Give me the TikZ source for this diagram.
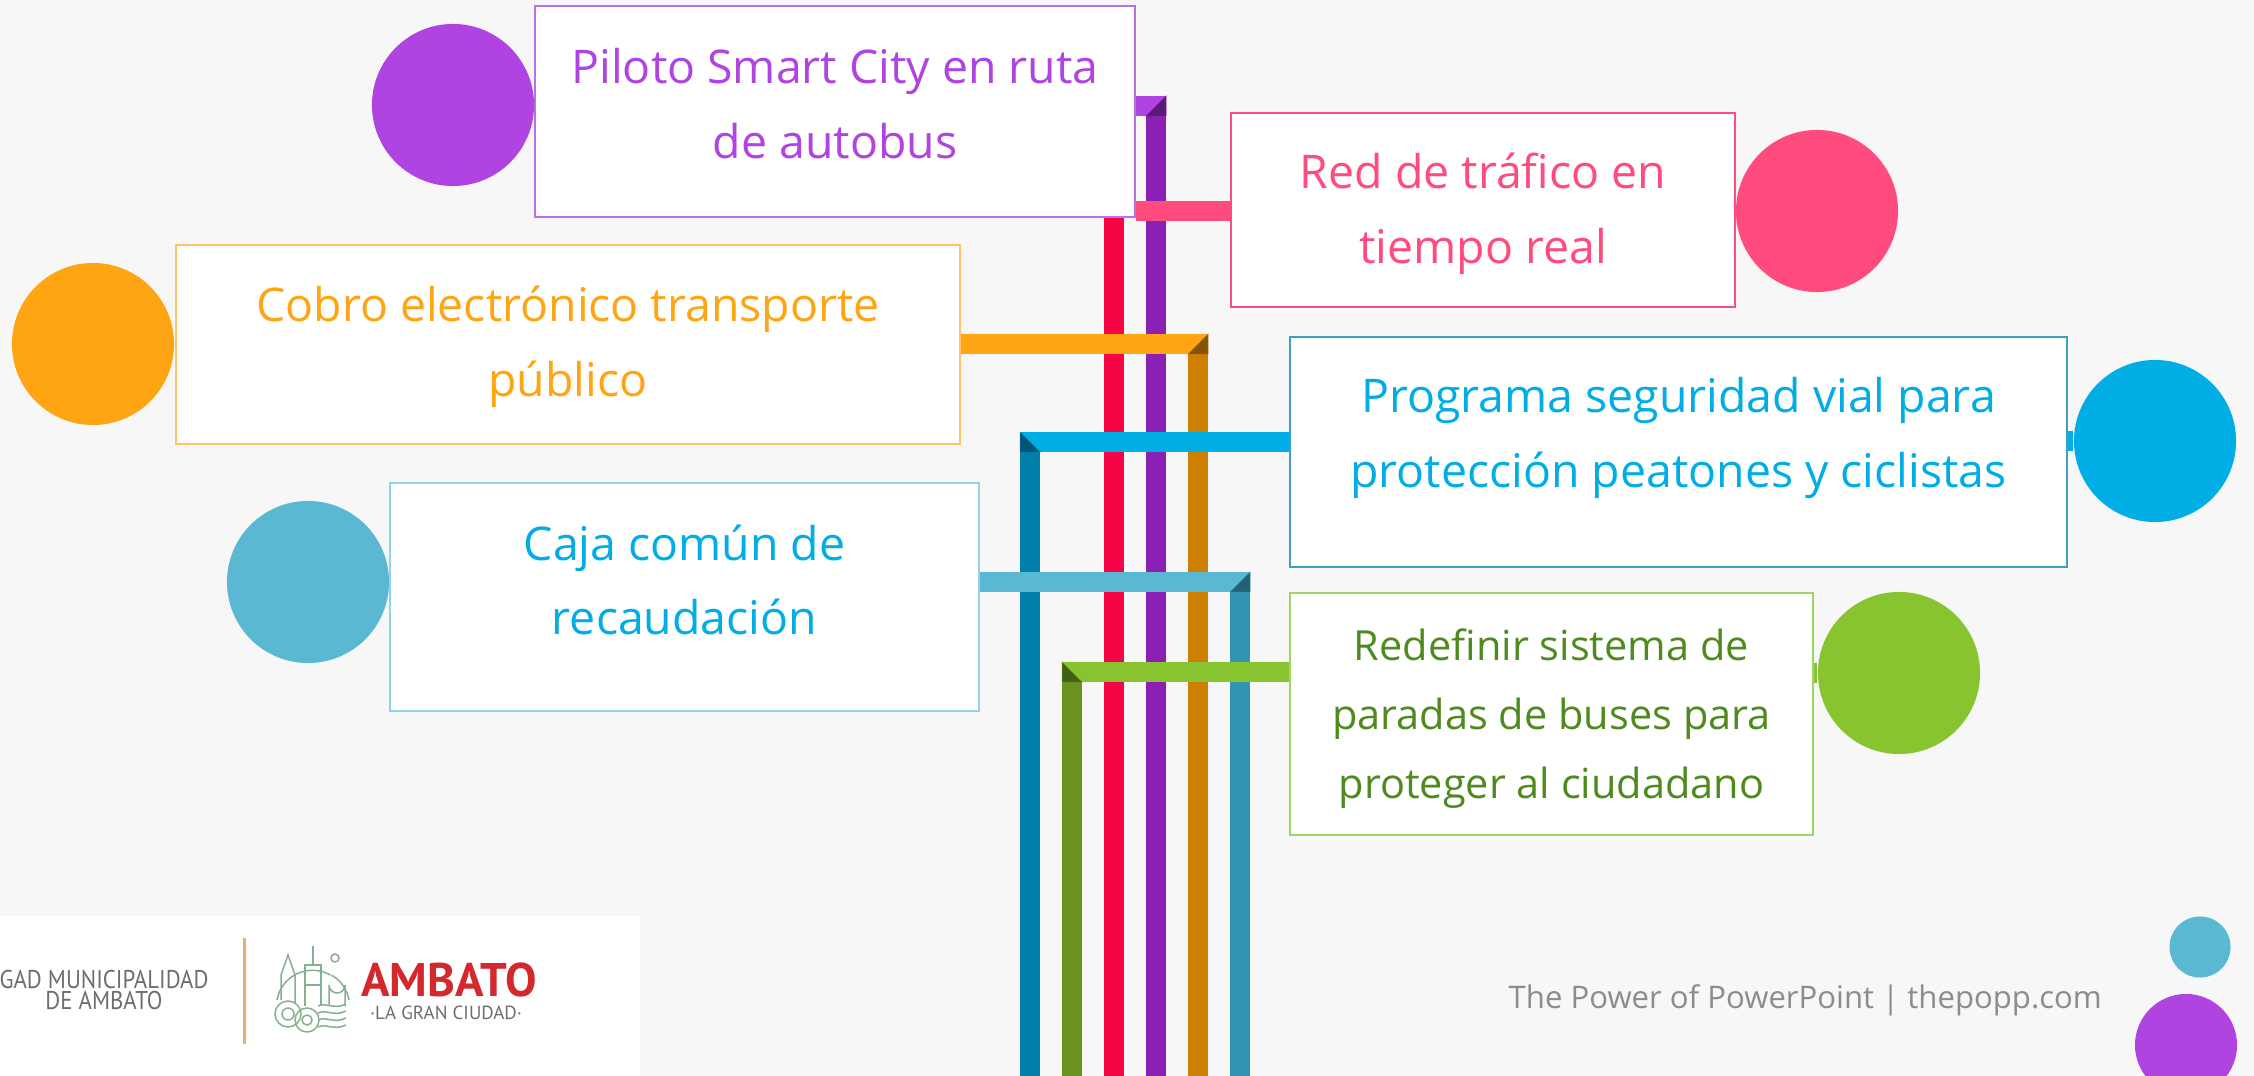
\documentclass[tikz,border=0pt]{standalone}
\usepackage{fontspec}
\usepackage{xcolor}
\setmainfont{Open Sans}
\newfontfamily\logofont{PT Sans}
\usetikzlibrary{backgrounds}
\definecolor{pagegray}{HTML}{F7F7F7}
\definecolor{purplelight}{HTML}{B044E0}
\definecolor{purplemain}{HTML}{8B21B4}
\definecolor{purpledark}{HTML}{5A1878}
\definecolor{purpleedge}{HTML}{BC70E6}
\definecolor{pinkmain}{HTML}{FF4B7D}
\definecolor{redmain}{HTML}{F50545}
\definecolor{orangelight}{HTML}{FFA514}
\definecolor{orangemain}{HTML}{CC7F00}
\definecolor{orangedark}{HTML}{855300}
\definecolor{orangeedge}{HTML}{FFC568}
\definecolor{bluelight}{HTML}{00ADE4}
\definecolor{bluemain}{HTML}{0080AA}
\definecolor{bluedark}{HTML}{005677}
\definecolor{blueedge}{HTML}{3FA0C0}
\definecolor{teallight}{HTML}{5AB8D3}
\definecolor{tealmain}{HTML}{3195B2}
\definecolor{tealdark}{HTML}{206278}
\definecolor{tealedge}{HTML}{93D3E6}
\definecolor{greenlight}{HTML}{88C42F}
\definecolor{greenmain}{HTML}{6A9323}
\definecolor{greendark}{HTML}{425F14}
\definecolor{greenedge}{HTML}{9FD566}
\definecolor{greentext}{HTML}{4F8A1E}
\definecolor{footgray}{HTML}{8C8C8C}
\definecolor{logored}{HTML}{D2282E}
\definecolor{logogreen}{HTML}{86B08E}
\definecolor{logogold}{HTML}{DDB36E}
\definecolor{logogray}{HTML}{6E6E6E}
\tikzset{
  boxnode/.style={draw,fill=white,line width=0.2mm,inner sep=0pt},
  dotnode/.style={circle,inner sep=0pt,minimum size=1.62cm},
  boxtext/.style={align=center,inner sep=0pt,font=\fontsize{13.2}{21.3}\selectfont},
  bar/.style={line width=0.2cm},
  corner/.style={line width=0.05mm}
}
\begin{document}
\begin{tikzpicture}[x=0.01cm,y=-0.01cm]
\useasboundingbox (0,0) rectangle (2254,1076);
% Boxes
\node[boxnode,draw=purpleedge,minimum width=6cm,minimum height=2.11cm] (pilotobox) at (835,111.5) {};
\node[boxnode,draw=pinkmain,minimum width=5.04cm,minimum height=1.94cm] (redbox) at (1483,210) {};
\node[boxnode,draw=orangeedge,minimum width=7.84cm,minimum height=1.99cm] (cobrobox) at (568,344.5) {};
\node[boxnode,draw=blueedge,minimum width=7.77cm,minimum height=2.30cm] (segurobox) at (1678.5,452) {};
\node[boxnode,draw=tealedge,minimum width=5.89cm,minimum height=2.28cm] (cajabox) at (684.5,597) {};
\node[boxnode,draw=greenedge,minimum width=5.23cm,minimum height=2.42cm] (paradabox) at (1551.5,714) {};
% Circles
\node[dotnode,fill=purplelight] (pilotodot) at (453,105) {};
\node[dotnode,fill=pinkmain] (reddot) at (1817,211) {};
\node[dotnode,fill=orangelight] (cobrodot) at (93,344) {};
\node[dotnode,fill=bluelight] (segurodot) at (2155,441) {};
\node[dotnode,fill=teallight] (cajadot) at (308,582) {};
\node[dotnode,fill=greenlight] (paradadot) at (1899,673) {};
\node[dotnode,fill=teallight,minimum size=0.61cm] (smalldot) at (2200,947) {};
\node[dotnode,fill=purplelight,minimum size=1.02cm] (bigdot) at (2186,1045) {};
% Texts
\node[boxtext,text=purplelight,yshift=0.08cm] (pilototext) at (pilotobox) {Piloto Smart City en ruta\\de autobus};
\node[boxtext,text=pinkmain,yshift=-0.04cm] (redtext) at (redbox) {Red de tráfico en\\tiempo real};
\node[boxtext,text=orangelight,yshift=-0.02cm] (cobrotext) at (cobrobox) {Cobro electrónico transporte\\público};
\node[boxtext,text=bluelight,yshift=0.14cm] (segurotext) at (segurobox) {Programa seguridad vial para\\protección peatones y ciclistas};
\node[boxtext,text=bluelight,yshift=0.17cm] (cajatext) at (cajabox) {Caja común de\\recaudación};
\node[boxtext,text=greentext,font=\fontsize{11.8}{19.6}\selectfont,yshift=-0.05cm] (paradatext) at (paradabox) {Redefinir sistema de\\paradas de buses para\\proteger al ciudadano};
\node[anchor=west,text=footgray,font=\fontsize{8.85}{10}\selectfont,inner sep=0pt] (foottext) at (1508,1000) {The Power of PowerPoint | thepopp.com};
% Corners of the bars
\coordinate (pilotocorner) at (1156,106);
\coordinate (redcorner) at (1114,211);
\coordinate (cobrocorner) at (1198,344);
\coordinate (segurocorner) at (1030,442);
\coordinate (cajacorner) at (1240,582);
\coordinate (paradacorner) at (1072,672);
\begin{scope}[on background layer]
\fill[pagegray] (0,0) rectangle (2254,1076);
% Vertical bars
\foreach \c/\col in {segurocorner/bluemain,paradacorner/greenmain,redcorner/redmain,pilotocorner/purplemain,cobrocorner/orangemain,cajacorner/tealmain}
\draw[bar,\col] ([yshift=0.1cm]\c) -- (\c |- 0,1076);
% Horizontal bars
\draw[bar,purplelight] (pilotobox.east |- pilotocorner) -- ([xshift=0.1cm]pilotocorner);
\draw[bar,pinkmain] (pilotobox.east |- redcorner) -- (redbox.west |- redcorner);
\draw[bar,orangelight] (cobrobox.east |- cobrocorner) -- ([xshift=0.1cm]cobrocorner);
\draw[bar,bluelight] ([xshift=-0.1cm]segurocorner) -- (segurobox.west |- segurocorner);
\draw[bar,bluelight] (segurobox.east |- segurodot) -- (segurodot);
\draw[bar,teallight] (cajabox.east |- cajacorner) -- ([xshift=0.1cm]cajacorner);
\draw[bar,greenlight] ([xshift=-0.1cm]paradacorner) -- (paradabox.west |- paradacorner);
\draw[bar,greenlight] (paradabox.east |- paradadot) -- (paradadot);
% Folded corners
\filldraw[corner,draw=purplemain,fill=purpledark] ([shift={(0.1cm,0.1cm)}]pilotocorner) -- ([shift={(0.1cm,-0.1cm)}]pilotocorner) -- ([shift={(-0.1cm,-0.1cm)}]pilotocorner) -- cycle;
\filldraw[corner,draw=orangemain,fill=orangedark] ([shift={(0.1cm,0.1cm)}]cobrocorner) -- ([shift={(0.1cm,-0.1cm)}]cobrocorner) -- ([shift={(-0.1cm,-0.1cm)}]cobrocorner) -- cycle;
\filldraw[corner,draw=tealmain,fill=tealdark] ([shift={(0.1cm,0.1cm)}]cajacorner) -- ([shift={(0.1cm,-0.1cm)}]cajacorner) -- ([shift={(-0.1cm,-0.1cm)}]cajacorner) -- cycle;
\filldraw[corner,draw=bluemain,fill=bluedark] ([shift={(-0.1cm,0.1cm)}]segurocorner) -- ([shift={(-0.1cm,-0.1cm)}]segurocorner) -- ([shift={(0.1cm,-0.1cm)}]segurocorner) -- cycle;
\filldraw[corner,draw=greenmain,fill=greendark] ([shift={(-0.1cm,0.1cm)}]paradacorner) -- ([shift={(-0.1cm,-0.1cm)}]paradacorner) -- ([shift={(0.1cm,-0.1cm)}]paradacorner) -- cycle;
\end{scope}
% Logo
\fill[white] (0,916) rectangle (640,1076);
\node[text=logogray,font=\logofont\fontsize{7.3}{6}\selectfont,align=center,inner sep=0pt,xscale=0.89] (logoname) at (104,990) {GAD MUNICIPALIDAD\\DE AMBATO};
\draw[logogold,line width=0.3mm] (244,938) -- (244,1044);
\node[text=logored,font=\logofont\bfseries\fontsize{13.4}{14}\selectfont,inner sep=0pt] (logocity) at (449,980) {AMBATO};
\node[text=logogray,font=\logofont\fontsize{5.4}{6}\selectfont,inner sep=0pt] (logotag) at (446,1013) {·LA GRAN CIUDAD·};
% Emblem
\begin{scope}[logogreen,line width=0.15mm]
\draw (281,1000) -- (281,975) -- (288,955) -- (295,975) -- (295,1003);
\draw (305,1006) -- (305,965) -- (321,965) -- (321,1006) (313,965) -- (313,946) (305,985) -- (321,985);
\draw (329,1006) -- (329,985) arc[start angle=180,end angle=0,radius=8] -- (345,1006);
\draw (335,958) circle (4);
\draw (277,1000) arc[start angle=190,end angle=300,radius=36] (349,1000) arc[start angle=-10,end angle=-60,radius=36];
\draw (288,1014) circle (13) (288,1014) circle (6) (307,1020) circle (12) (307,1020) circle (5);
\foreach \y in {1006,1013,1020,1027}
\draw (318,\y) .. controls (326,\y-4) and (334,\y+4) .. (346,\y-2);
\end{scope}
\end{tikzpicture}
\end{document}
